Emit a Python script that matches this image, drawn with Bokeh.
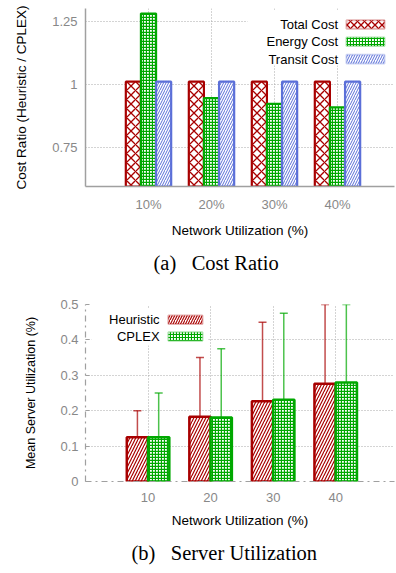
import numpy as np
from bokeh.plotting import figure
from bokeh.layouts import column
from bokeh.models import (ColumnDataSource, FixedTicker, Whisker, TeeHead,
                          BoxAnnotation, Label, Range1d, Title)
from bokeh.embed import file_html
from bokeh.resources import INLINE

# ---------------- data: (a) Cost Ratio ----------------
utilization_labels = ["10%", "20%", "30%", "40%"]
total_cost = [1.01, 1.01, 1.01, 1.01]
energy_cost = [1.28, 0.945, 0.922, 0.908]
transit_cost = [1.01, 1.01, 1.01, 1.01]
cost_yticks = [0.75, 1.0, 1.25]
cost_ytick_labels = ["0.75", "1", "1.25"]

# ---------------- data: (b) Server Utilization ----------------
net_util = [10, 20, 30, 40]
heur_mean = [0.125, 0.183, 0.227, 0.276]
heur_low = [0.1, 0.1, 0.1, 0.1]
heur_high = [0.2, 0.35, 0.45, 0.5]
cplex_mean = [0.125, 0.181, 0.231, 0.280]
cplex_low = [0.077, 0.05, 0.1, 0.1]
cplex_high = [0.25, 0.375, 0.475, 0.5]
util_yticks = [0, 0.1, 0.2, 0.3, 0.4, 0.5]
util_ytick_labels = ["0", "0.1", "0.2", "0.3", "0.4", "0.5"]

RED = "#a80000"
GREEN = "#00a800"
BLUE = "#5b6fd8"
AXIS_GREY = "#a0a0a0"
TICK_GREY = "#888888"
GRID_GREY = "#a8a8a8"
SANS = "Liberation Sans"
SERIF = "Liberation Serif"


def style_common(p):
    p.outline_line_color = None
    p.background_fill_color = "white"
    p.border_fill_color = "white"
    p.axis.axis_line_color = AXIS_GREY
    p.axis.axis_line_width = 1.5
    p.axis.major_tick_line_color = None
    p.axis.minor_tick_line_color = None
    p.axis.major_tick_out = 0
    p.axis.major_tick_in = 0
    p.axis.minor_tick_out = 0
    p.axis.major_label_text_color = TICK_GREY
    p.axis.major_label_text_font = SANS
    p.axis.major_label_text_font_size = "13px"
    p.axis.axis_label_text_font = SANS
    p.axis.axis_label_text_font_size = "13.5px"
    p.axis.axis_label_text_font_style = "normal"
    p.axis.axis_label_text_color = "black"
    p.grid.grid_line_color = GRID_GREY
    p.grid.grid_line_dash = "1 2"
    p.grid.grid_line_width = 1
    p.grid.level = "image"
    p.title.text_font = SERIF
    p.title.text_font_size = "20.5px"
    p.title.text_font_style = "normal"
    p.title.text_color = "black"
    p.title.align = "left"


def set_standoff(t, s):
    if "standoff" in t.properties():
        t.standoff = s


# ======================= (a) =======================
fw1, fh1 = 309.0, 178.0
x_lo1, x_hi1 = 0.0, 4.905
y_lo1, y_hi1 = 0.595, 1.30
p1 = figure(width=396, height=290, x_range=Range1d(x_lo1, x_hi1),
            y_range=Range1d(y_lo1, y_hi1), output_backend="svg",
            toolbar_location=None, min_border_left=85, min_border_right=2,
            min_border_top=8, min_border_bottom=104,
            title="(a)\u2002 Cost Ratio", title_location="below")
style_common(p1)

xs = np.arange(1, len(utilization_labels) + 1)
bw1 = 0.24
src1 = ColumnDataSource(dict(xt=xs - bw1, xe=xs, xr=xs + bw1,
                             total=total_cost, energy=energy_cost,
                             transit=transit_cost))
p1.vbar(x="xt", top="total", bottom=0, width=bw1, source=src1,
        fill_color="white", line_color=RED, line_width=2.2,
        hatch_pattern="x", hatch_color=RED, hatch_scale=9, hatch_weight=1.3)
p1.vbar(x="xe", top="energy", bottom=0, width=bw1, source=src1,
        fill_color="white", line_color=GREEN, line_width=2.2,
        hatch_pattern="+", hatch_color=GREEN, hatch_scale=3, hatch_weight=1.3)
p1.vbar(x="xr", top="transit", bottom=0, width=bw1, source=src1,
        fill_color="white", line_color=BLUE, line_width=2.2,
        hatch_pattern="/", hatch_color=BLUE, hatch_scale=5, hatch_weight=1)

xt1 = FixedTicker(ticks=[int(v) for v in xs])
p1.xaxis.ticker = xt1
p1.xgrid.ticker = xt1
p1.xaxis.major_label_overrides = {int(v): lab for v, lab in zip(xs, utilization_labels)}
yt1 = FixedTicker(ticks=cost_yticks)
p1.yaxis.ticker = yt1
p1.ygrid.ticker = yt1
p1.yaxis.major_label_overrides = dict(zip(cost_yticks, cost_ytick_labels))
p1.xaxis.axis_label = "Network Utilization (%)"
p1.yaxis.axis_label = "Cost Ratio (Heuristic / CPLEX)"
p1.xaxis.major_label_standoff = 10
p1.xaxis.axis_label_standoff = 8
p1.yaxis.major_label_standoff = 8
p1.yaxis.axis_label_standoff = 20
p1.title.offset = 68
set_standoff(p1.title, 18)


def px1(px):  # px from frame left
    return x_lo1 + px / fw1 * (x_hi1 - x_lo1)


def py1(py):  # px from frame top
    return y_hi1 - py / fh1 * (y_hi1 - y_lo1)


p1.add_layout(BoxAnnotation(left=px1(162), right=None, top=py1(2), bottom=py1(57),
                            fill_color="white", fill_alpha=1, line_color=None,
                            level="underlay"))
leg1 = [("Total Cost", RED, "x", 7, 1.3), ("Energy Cost", GREEN, "+", 3, 1.2),
        ("Transit Cost", BLUE, "/", 5, 1)]
for i, (lab, col, hp, hs, hw) in enumerate(leg1):
    cy = 16 + i * 17.3
    p1.add_layout(BoxAnnotation(left=px1(261), right=px1(299), top=py1(cy - 4.3),
                                bottom=py1(cy + 4.3), fill_color="white", fill_alpha=1,
                                line_color=col, line_width=2, hatch_pattern=hp,
                                hatch_color=col, hatch_scale=hs, hatch_weight=hw))
    p1.add_layout(Label(x=px1(252.5), y=py1(cy), text=lab, text_align="right",
                        text_baseline="middle", text_font=SANS,
                        text_font_size="13px", text_color="black"))

# ======================= (b) =======================
fw2, fh2 = 317.0, 177.0
x_lo2, x_hi2 = 0.0, 49.4
y_lo2, y_hi2 = 0.0, 0.5
p2 = figure(width=396, height=283, x_range=Range1d(x_lo2, x_hi2),
            y_range=Range1d(y_lo2, y_hi2), output_backend="svg",
            toolbar_location=None, min_border_left=77, min_border_right=2,
            min_border_top=14, min_border_bottom=92,
            title="(b)\u2002 Server Utilization", title_location="below")
style_common(p2)
p2.axis.axis_line_dash = "dashdot"
p2.axis.axis_line_width = 1.2
p2.yaxis.major_tick_line_color = AXIS_GREY
p2.yaxis.major_tick_in = 4

bw2 = 3.4
nu = np.array(net_util, dtype=float)
src2 = ColumnDataSource(dict(xh=nu - bw2 / 2, xc=nu + bw2 / 2,
                             hm=heur_mean, hl=heur_low, hh=heur_high,
                             cm=cplex_mean, cl=cplex_low, ch=cplex_high))
p2.vbar(x="xh", top="hm", bottom=0, width=bw2, source=src2,
        fill_color="white", line_color=RED, line_width=2.5,
        hatch_pattern="/", hatch_color=RED, hatch_scale=6, hatch_weight=1.2)
p2.vbar(x="xc", top="cm", bottom=0, width=bw2, source=src2,
        fill_color="white", line_color=GREEN, line_width=2.5,
        hatch_pattern="+", hatch_color=GREEN, hatch_scale=3, hatch_weight=1.3)
for base, lo, hi, col in (("xh", "hl", "hh", RED), ("xc", "cl", "ch", GREEN)):
    p2.add_layout(Whisker(source=src2, base=base, lower=lo, upper=hi,
                          line_color=col, line_alpha=0.7, line_width=1.5,
                          upper_head=TeeHead(size=8, line_color=col, line_alpha=0.7, line_width=1.5),
                          lower_head=TeeHead(size=8, line_color=col, line_alpha=0.7, line_width=1.5)))

xt2 = FixedTicker(ticks=net_util)
p2.xaxis.ticker = xt2
p2.xgrid.ticker = xt2
yt2 = FixedTicker(ticks=util_yticks)
p2.yaxis.ticker = yt2
p2.ygrid.ticker = yt2
p2.yaxis.major_label_overrides = dict(zip(util_yticks, util_ytick_labels))
p2.xaxis.axis_label = "Network Utilization (%)"
p2.xaxis.major_label_standoff = 11
p2.xaxis.axis_label_standoff = 8
p2.yaxis.major_label_standoff = 7
p2.yaxis.axis_label = "Mean Server Utilization (%)"
p2.yaxis.axis_label_text_font_size = "12.5px"
p2.yaxis.axis_label_standoff = 19
p2.title.offset = 46
set_standoff(p2.title, 19)


def px2(px):
    return x_lo2 + px / fw2 * (x_hi2 - x_lo2)


def py2(py):
    return y_hi2 - py / fh2 * (y_hi2 - y_lo2)


p2.add_layout(BoxAnnotation(left=px2(6), right=px2(126), top=py2(4), bottom=py2(41),
                            fill_color="white", fill_alpha=1, line_color=None,
                            level="underlay"))
leg2 = [("Heuristic", RED, "/", 5, 1.1), ("CPLEX", GREEN, "+", 3, 1.2)]
for i, (lab, col, hp, hs, hw) in enumerate(leg2):
    cy = 15.3 + i * 16.7
    p2.add_layout(BoxAnnotation(left=px2(85), right=px2(120), top=py2(cy - 4.3),
                                bottom=py2(cy + 4.3), fill_color="white", fill_alpha=1,
                                line_color=col, line_width=2, hatch_pattern=hp,
                                hatch_color=col, hatch_scale=hs, hatch_weight=hw))
    p2.add_layout(Label(x=px2(76), y=py2(cy), text=lab, text_align="right",
                        text_baseline="middle", text_font=SANS,
                        text_font_size="13px", text_color="black"))

layout = column(p1, p2, spacing=0)
open("out.html", "w").write(file_html(layout, INLINE))
